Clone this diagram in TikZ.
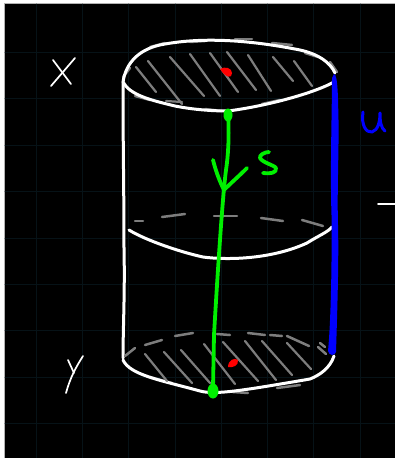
\documentclass[tikz,border=0pt]{standalone}
\definecolor{gridc}{RGB}{6,18,23}
\definecolor{hatch}{RGB}{125,125,125}
\definecolor{grn}{RGB}{0,240,0}
\definecolor{blu}{RGB}{0,0,255}
\begin{document}
\begin{tikzpicture}[x=1pt,y=-1pt,line cap=round,line join=round,
  ink/.style={draw=white,line width=3pt},
  thin ink/.style={draw=white,line width=1.7pt},
  dashink/.style={draw=hatch,line width=2.5pt},
  hatching/.style={draw=hatch,line width=2.2pt},
  green ink/.style={draw=grn,line width=3.8pt},
  blue ink/.style={draw=blu,line width=3pt}]
\useasboundingbox (0,0) rectangle (395,458);
\fill[white] (0,0) rectangle (395,458);
\fill[black!30] (4,3) rectangle (395,458);
\fill[black] (5,4) rectangle (395,458);
\foreach \x in {36,82,128,175,221,267,313,360}
  \draw[gridc,line width=0.6pt] (\x,4) -- (\x,458);
\foreach \y in {52,98,145,191,238,284,330,377,423}
  \draw[gridc,line width=0.6pt] (5,\y) -- (395,\y);
% top ellipse
\foreach \a/\b in {{150,47}/{165,43},{190,42}/{205,41},{235,39}/{252,39},{272,43}/{292,45},{305,53}/{318,57},{330,62}/{337,72},{123,77}/{130,68},{135,96}/{150,100},{205,109}/{222,111},{262,104}/{280,100}}
  \draw[dashink] (\a) -- (\b);
\draw[ink] (123,82) .. controls (126,62) and (140,48) .. (165,44) .. controls (210,36) and (260,42) .. (300,50) .. controls (318,54) and (330,62) .. (335,73);
\draw[ink] (123,82) .. controls (130,95) and (150,100) .. (175,106) .. controls (195,110) and (215,111) .. (228,111) .. controls (260,107) and (310,95) .. (334,82);
\foreach \a/\b in {{136,67}/{156,92},{148,61}/{182,104},{170,57}/{204,96},{190,54}/{220,96},{210,53}/{238,92},{227,52}/{256,90},{248,55}/{271,91},{273,57}/{293,81},{294,61}/{312,86}}
  \draw[hatching] (\a) -- (\b);
\draw[hatching] (166,101) -- (182,102);
\fill[red] (220,69) .. controls (225,66) and (232,68) .. (232,73) .. controls (232,79) and (226,78) .. (220,69) -- cycle;
% sides
\draw[ink] (123,82) .. controls (123,150) and (124,190) .. (124,250) .. controls (125,290) and (123,330) .. (123,358);
% middle
\foreach \a/\b in {{135,221}/{143,221},{162,217}/{185,214},{214,216}/{237,216},{261,218}/{283,221},{302,220}/{323,226}}
  \draw[dashink] (\a) -- (\b);
\draw[ink] (129,230) .. controls (145,240) and (180,252) .. (203,257) .. controls (225,260) and (270,260) .. (307,243) .. controls (318,236) and (328,232) .. (332,227);
% bottom ellipse
\foreach \a/\b in {{145,345}/{162,340},{175,336}/{193,333},{217,334}/{230,335},{248,333}/{265,335},{270,335}/{282,336},{287,336}/{309,346},{318,347}/{326,354},{320,343}/{325,347},{125,356}/{135,348},{150,377}/{172,383},{233,392}/{248,393},{277,388}/{300,385}}
  \draw[dashink] (\a) -- (\b);
\draw[ink] (123,360) .. controls (130,375) and (160,380) .. (200,391) .. controls (215,395) and (240,391) .. (310,379) .. controls (320,375) and (330,368) .. (334,356);
\foreach \a/\b in {{145,354}/{167,381},{164,352}/{192,383},{181,350}/{210,383},{204,344}/{235,384},{223,342}/{258,381},{245,341}/{276,380},{262,341}/{292,375},{287,343}/{311,369}}
  \draw[hatching] (\a) -- (\b);
\fill[red] (228,367) .. controls (228,360) and (235,357) .. (238,360) .. controls (239,366) and (232,368) .. (228,367) -- cycle;
% blue
\fill[blu] (334,74) .. controls (338,74) and (338,100) .. (338.5,120) .. controls (339,150) and (337,190) .. (338,225) .. controls (339,260) and (337,320) .. (336,352) .. controls (335,356) and (329,356) .. (328,351) .. controls (331,320) and (332,260) .. (331.5,215) .. controls (330,170) and (332,110) .. (332,78) -- cycle;
\draw[blue ink] (363,112) .. controls (361,125) and (366,133) .. (372,132) .. controls (378,130) and (380,122) .. (380,113) .. controls (380,122) and (381,128) .. (385,131);
% labels as strokes
\draw[thin ink] (75,58) -- (51,86);
\draw[thin ink] (53,60) -- (71,84);
\draw[thin ink] (68,360) -- (74,373);
\draw[thin ink] (83,356) .. controls (76,367) and (70,378) .. (66,393);
\draw[thin ink] (378,204) -- (395,204);
% green
\draw[green ink] (228,112) .. controls (229,130) and (229,150) .. (226,170) .. controls (222,200) and (216,300) .. (214,335) -- (213,388);
\fill[grn] (228,115) ellipse (4.5pt and 6.5pt);
\fill[grn] (213,391) ellipse (5.5pt and 7.5pt);
\draw[green ink] (213,160) .. controls (216,172) and (220,182) .. (224,190) .. controls (232,182) and (238,177) .. (247,168);
\draw[green ink] (269,152) .. controls (265,152) and (259,155) .. (260,158) .. controls (263,163) and (274,165) .. (276,168) .. controls (277,173) and (270,174) .. (263,173);
\end{tikzpicture}
\end{document}
